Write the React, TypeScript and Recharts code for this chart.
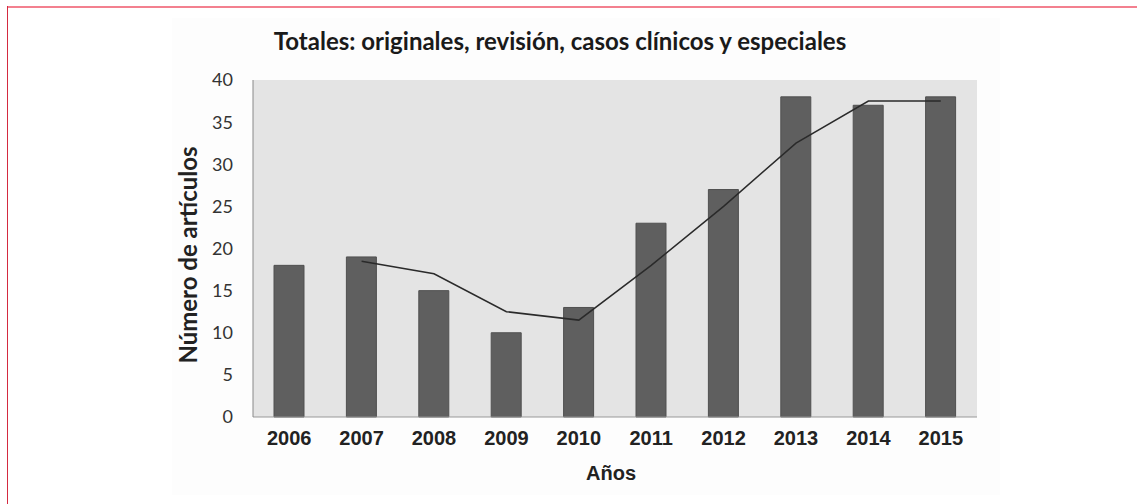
import React from "react";
import { ComposedChart, Bar, Line, XAxis, YAxis, CartesianGrid, Customized } from "recharts";

const years = ["2006", "2007", "2008", "2009", "2010", "2011", "2012", "2013", "2014", "2015"];
const totals = [18, 19, 15, 10, 13, 23, 27, 38, 37, 38];
const movingAvg = [null, 18.5, 17, 12.5, 11.5, 18, 25, 32.5, 37.5, 37.5];
const yTicks = [0, 5, 10, 15, 20, 25, 30, 35, 40];

const data = years.map((y, i) => ({ year: y, total: totals[i], avg: movingAvg[i] }));

const Texts = () => (
  <g>
    <text x={560} y={50} textAnchor="middle" fontFamily="Lato" fontWeight={700} fontSize={24} fill="#1a1a1a">
      Totales: originales, revisión, casos clínicos y especiales
    </text>
    <text x={611} y={480} textAnchor="middle" fontFamily="'Liberation Sans', Arial" fontWeight={700} fontSize={20} fill="#222">
      Años
    </text>
    <text
      x={0}
      y={0}
      transform="translate(197,255) rotate(-90)"
      textAnchor="middle"
      fontFamily="Lato"
      fontWeight={700}
      fontSize={24}
      fill="#222"
    >
      Número de artículos
    </text>
  </g>
);

export default function App() {
  return (
    <div style={{ position: "absolute", left: 0, top: 0, width: 1137, height: 504, background: "#fff", overflow: "hidden" }}>
      <div style={{ position: "absolute", left: 172, top: 18, width: 828, height: 477, background: "#fdfdfd" }} />
      <div style={{ position: "absolute", left: 7, top: 6, width: 1130, height: 2, background: "#f3808f" }} />
      <div style={{ position: "absolute", left: 7, top: 6, width: 1, height: 498, background: "#d42a40" }} />
      <div style={{ position: "absolute", left: 0, top: 0 }}>
        <ComposedChart width={1137} height={504} data={data} margin={{ top: 80, right: 160, bottom: 57, left: 173 }}>
          <CartesianGrid horizontal={false} vertical={false} fill="#e4e4e4" />
          <XAxis
            dataKey="year"
            height={30}
            tickLine={false}
            tickSize={0}
            tickMargin={14}
            stroke="#999"
            tick={{ fill: "#222", fontFamily: "'Liberation Sans', Arial", fontWeight: 700, fontSize: 20 }}
          />
          <YAxis
            width={80}
            domain={[0, 40]}
            ticks={yTicks}
            tickLine={false}
            tickSize={0}
            tickMargin={20}
            stroke="#888"
            tick={{ fill: "#333", fontFamily: "Lato", fontSize: 18 }}
          />
          <Bar dataKey="total" barSize={30} fill="#5f5f5f" stroke="#505050" strokeWidth={1} isAnimationActive={false} />
          <Line
            dataKey="avg"
            type="linear"
            stroke="#2a2a2a"
            strokeWidth={1.5}
            dot={false}
            activeDot={false}
            connectNulls={false}
            isAnimationActive={false}
          />
          <Customized component={Texts} />
        </ComposedChart>
      </div>
    </div>
  );
}
